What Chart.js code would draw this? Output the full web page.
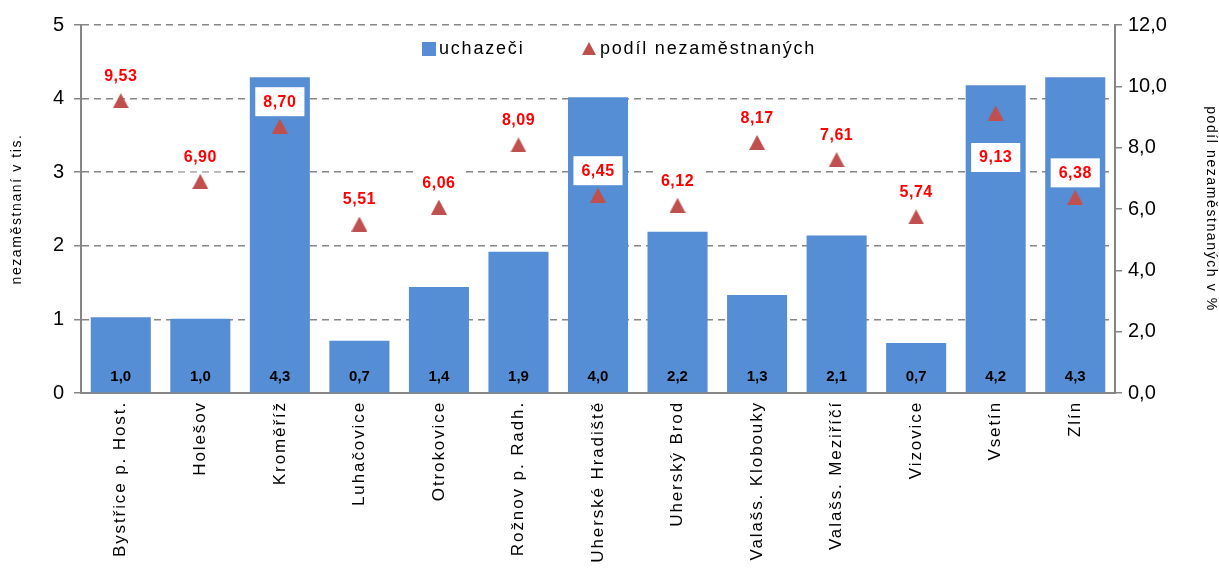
<!DOCTYPE html>
<html>
<head>
<meta charset="utf-8">
<script src="https://cdn.jsdelivr.net/npm/chart.js@4.4.0/dist/chart.umd.min.js"></script>
<style>
  html, body { margin: 0; padding: 0; background: #fff; }
  #wrap { width: 1219px; height: 570px; }
</style>
</head>
<body>
<div id="wrap"><canvas id="chart" width="1219" height="570"></canvas></div>
<script>
// districts and values
const districts = ['Bystřice p. Host.', 'Holešov', 'Kroměříž', 'Luhačovice', 'Otrokovice', 'Rožnov p. Radh.',
  'Uherské Hradiště', 'Uherský Brod', 'Valašs. Klobouky', 'Valašs. Meziříčí', 'Vizovice', 'Vsetín', 'Zlín'];
const applicants = [1.03, 1.01, 4.29, 0.71, 1.44, 1.92, 4.02, 2.19, 1.33, 2.14, 0.68, 4.18, 4.29];
const unemploymentRate = [9.53, 6.90, 8.70, 5.51, 6.06, 8.09, 6.45, 6.12, 8.17, 7.61, 5.74, 9.13, 6.38];
const leftTicks = [0, 1, 2, 3, 4, 5];
const rightTicks = [0, 2, 4, 6, 8, 10, 12];

const barColor = '#558ed5';
const markerColor = '#c0504d';
const axisColor = '#868686';
const font = 'Liberation Sans, Arial, sans-serif';

// one rate label sits under its marker in the original (px, relative to the marker)
const labelShift = { 11: 44 };

const fmt = (v, d) => v.toFixed(d).replace('.', ',');

// Excel style triangle marker, centred on its box
const marker = document.createElement('canvas');
marker.width = 16;
marker.height = 15;
(function () {
  const c = marker.getContext('2d');
  c.fillStyle = markerColor;
  c.beginPath();
  c.moveTo(8, 0);
  c.lineTo(16, 15);
  c.lineTo(0, 15);
  c.closePath();
  c.fill();
})();

// wrap a scale draw step so its text gets the wider Excel-like spacing
function spaced(scale, fn, spacing) {
  if (scale['_sp_' + fn]) return;
  const orig = scale[fn];
  scale[fn] = function (...args) {
    const ctx = this.ctx;
    ctx.save();
    ctx.letterSpacing = spacing;
    orig.apply(this, args);
    ctx.restore();
  };
  scale['_sp_' + fn] = true;
}

// labels on bars and above markers, plus the legend inside the plot
const labelPlugin = {
  id: 'labels',
  afterLayout(chart) {
    spaced(chart.scales.x, 'drawLabels', '1.9px');
    spaced(chart.scales.y, 'drawTitle', '1.6px');
    spaced(chart.scales.y1, 'drawTitle', '1.6px');
  },
  afterDatasetsDraw(chart) {
    const ctx = chart.ctx;
    const bars = chart.getDatasetMeta(0).data;
    const pts = chart.getDatasetMeta(1).data;
    ctx.save();
    ctx.textAlign = 'center';
    ctx.textBaseline = 'middle';

    ctx.font = 'bold 15px ' + font;
    ctx.fillStyle = '#000';
    bars.forEach((b, i) => {
      ctx.fillText(fmt(applicants[i], 1), b.x, chart.scales.y.getPixelForValue(0) - 16);
    });

    ctx.font = 'bold 16px ' + font;
    ctx.letterSpacing = '0.5px';
    pts.forEach((p, i) => {
      const txt = fmt(unemploymentRate[i], 2);
      const w = ctx.measureText(txt).width + 16;
      const cy = p.y + (labelShift[i] !== undefined ? labelShift[i] : -25);
      ctx.fillStyle = '#fff';
      ctx.fillRect(p.x - w / 2, cy - 14, w, 29);
      ctx.fillStyle = '#ff0000';
      ctx.fillText(txt, p.x, cy + 1);
    });

    // legend
    const ly = 49;
    ctx.font = '18px ' + font;
    ctx.letterSpacing = '1.8px';
    ctx.textAlign = 'left';
    ctx.fillStyle = barColor;
    ctx.fillRect(422, ly - 7, 14, 14);
    ctx.fillStyle = '#000';
    ctx.fillText(chart.data.datasets[0].label, 439, ly);
    ctx.fillStyle = markerColor;
    ctx.beginPath();
    ctx.moveTo(589, ly - 7);
    ctx.lineTo(596, ly + 6);
    ctx.lineTo(582, ly + 6);
    ctx.closePath();
    ctx.fill();
    ctx.fillStyle = '#000';
    ctx.fillText(chart.data.datasets[1].label, 600, ly);
    ctx.restore();
  }
};

new Chart(document.getElementById('chart'), {
  type: 'bar',
  data: {
    labels: districts,
    datasets: [
      {
        label: 'uchazeči',
        data: applicants,
        backgroundColor: barColor,
        yAxisID: 'y',
        barPercentage: 0.755,
        categoryPercentage: 1,
        order: 2
      },
      {
        type: 'line',
        label: 'podíl nezaměstnaných',
        data: unemploymentRate,
        yAxisID: 'y1',
        showLine: false,
        pointStyle: marker,
        pointRadius: 8,
        order: 1
      }
    ]
  },
  options: {
    responsive: false,
    animation: false,
    layout: { padding: { top: 25, left: 0, right: 0, bottom: 0 } },
    plugins: {
      legend: { display: false },
      tooltip: { enabled: false }
    },
    scales: {
      x: {
        grid: { display: false, drawTicks: false },
        border: { color: axisColor, width: 2 },
        ticks: {
          minRotation: 90, maxRotation: 90, autoSkip: false, padding: 8,
          color: '#000', font: { family: font, size: 17 }
        },
        afterFit: (s) => { s.height = 177; }
      },
      y: {
        position: 'left',
        min: 0, max: 5,
        afterBuildTicks: (s) => { s.ticks = leftTicks.map(v => ({ value: v })); },
        grid: {
          color: (c) => c.tick.value === 0 ? 'rgba(0,0,0,0)' : axisColor,
          lineWidth: 1.5,
          tickLength: 7,
          tickColor: axisColor
        },
        border: { color: axisColor, width: 2, dash: [7, 5] },
        ticks: { color: '#000', font: { family: font, size: 20 }, padding: 10 },
        title: {
          display: true, text: 'nezaměstnaní v tis.', color: '#000',
          font: { family: font, size: 14 }, padding: { top: 9, bottom: 0 }
        },
        afterFit: (s) => { s.width = 81; }
      },
      y1: {
        position: 'right',
        min: 0, max: 12,
        afterBuildTicks: (s) => { s.ticks = rightTicks.map(v => ({ value: v })); },
        grid: { drawOnChartArea: false, tickLength: 7, tickColor: axisColor, lineWidth: 1.5 },
        border: { color: axisColor, width: 2 },
        ticks: {
          color: '#000', font: { family: font, size: 20 }, padding: 6,
          callback: (v) => fmt(v, 1)
        },
        title: {
          display: true, text: 'podíl nezaměstnaných v %', color: '#000',
          font: { family: font, size: 14 }, padding: { top: 0, bottom: 4 }
        },
        afterFit: (s) => { s.width = 104; }
      }
    }
  },
  plugins: [labelPlugin]
});
</script>
</body>
</html>
